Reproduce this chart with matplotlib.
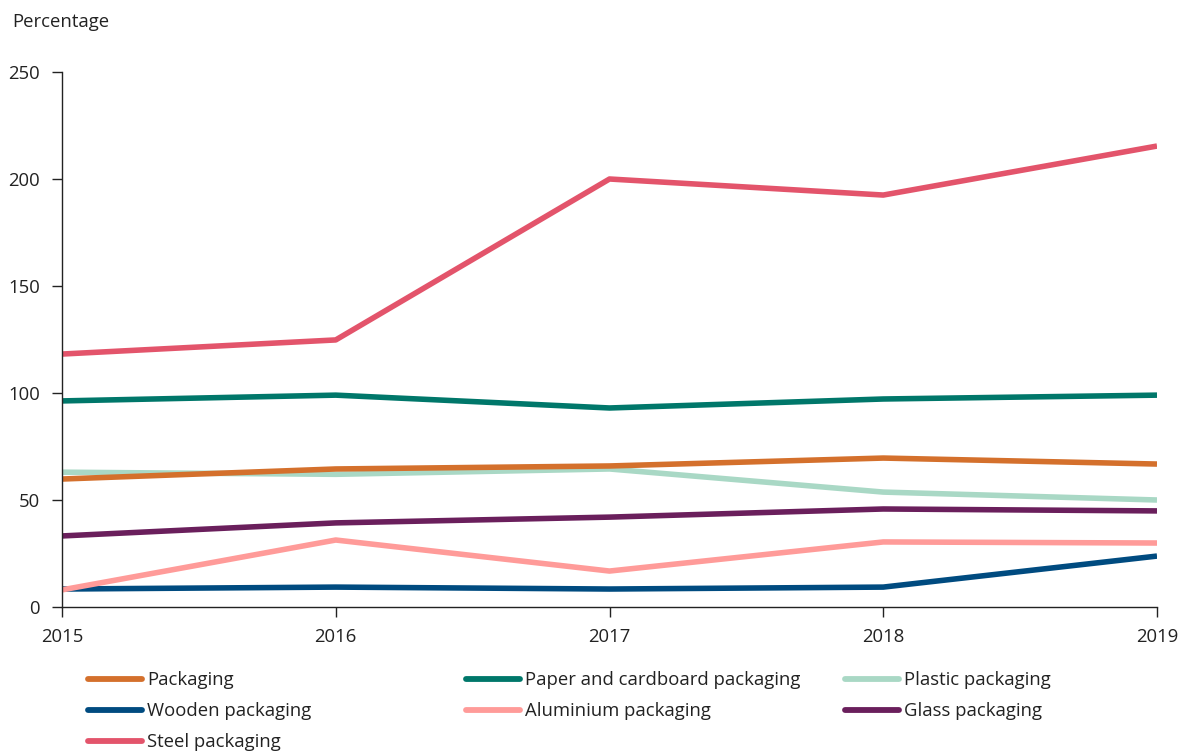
import matplotlib
matplotlib.use("Agg")
import matplotlib.pyplot as plt
from matplotlib.lines import Line2D

plt.rcParams['font.family'] = ['Open Sans', 'DejaVu Sans']

years = [2015, 2016, 2017, 2018, 2019]
packaging = [59.8, 64.5, 65.9, 69.6, 66.8]
paper = [96.3, 99.0, 93.0, 97.2, 99.0]
plastic = [63.0, 62.0, 64.5, 53.7, 50.0]
wooden = [8.4, 9.3, 8.4, 9.3, 23.8]
aluminium = [8.0, 31.3, 16.8, 30.4, 29.9]
glass = [33.2, 39.3, 42.0, 45.8, 44.9]
steel = [118.2, 124.8, 200.0, 192.5, 215.4]

series = [
    ("Packaging", packaging, "#d4702c"),
    ("Paper and cardboard packaging", paper, "#00776a"),
    ("Plastic packaging", plastic, "#a9d8c5"),
    ("Wooden packaging", wooden, "#004b80"),
    ("Aluminium packaging", aluminium, "#ff9b99"),
    ("Glass packaging", glass, "#6a1f5c"),
    ("Steel packaging", steel, "#e3546b"),
]
yticks = [0, 50, 100, 150, 200, 250]

FS = 13.3
fig = plt.figure(figsize=(11.8, 7.51), dpi=100)
ax = fig.add_axes([62/1180, 1-607/751, (1157-62)/1180, (607-72)/751])

draw_order = ["Steel packaging", "Paper and cardboard packaging", "Packaging",
              "Plastic packaging", "Glass packaging", "Aluminium packaging", "Wooden packaging"]
handles = {}
for name, vals, col in series:
    z = 10 - draw_order.index(name)
    ax.plot(years, vals, color=col, lw=4.0, solid_capstyle='butt', zorder=z, label=name)
    handles[name] = Line2D([0], [0], color=col, lw=4.2, solid_capstyle='round')

ax.set_xlim(2015, 2019)
ax.set_ylim(0, 250)
ax.set_xticks(years)
ax.set_xticklabels([str(y) for y in years])
ax.set_yticks(yticks)
for s in ['top', 'right']:
    ax.spines[s].set_visible(False)
for s in ['left', 'bottom']:
    ax.spines[s].set_color('#222222')
    ax.spines[s].set_linewidth(1.0)
ax.tick_params(axis='both', labelsize=FS, colors='#222222', length=7, width=1.0)
ax.tick_params(axis='y', pad=9)
ax.tick_params(axis='x', pad=8)
ax.spines['left'].set_zorder(20)

fig.text(12/1180, 1-22/751, "Percentage", fontsize=FS, color='#222222', va='center', ha='left')

cols = [
    (["Packaging", "Wooden packaging", "Steel packaging"], 88),
    (["Paper and cardboard packaging", "Aluminium packaging"], 466),
    (["Plastic packaging", "Glass packaging"], 845),
]
for names, x in cols:
    leg = fig.legend([handles[n] for n in names], names, loc='upper left',
                     bbox_to_anchor=(x/1180, 1-671/751), frameon=False,
                     fontsize=FS, handlelength=2.9, handletextpad=0.3,
                     labelspacing=0.71, borderaxespad=0, borderpad=0)
    for t in leg.get_texts():
        t.set_color('#222222')

fig.savefig("out.png", dpi=100)
